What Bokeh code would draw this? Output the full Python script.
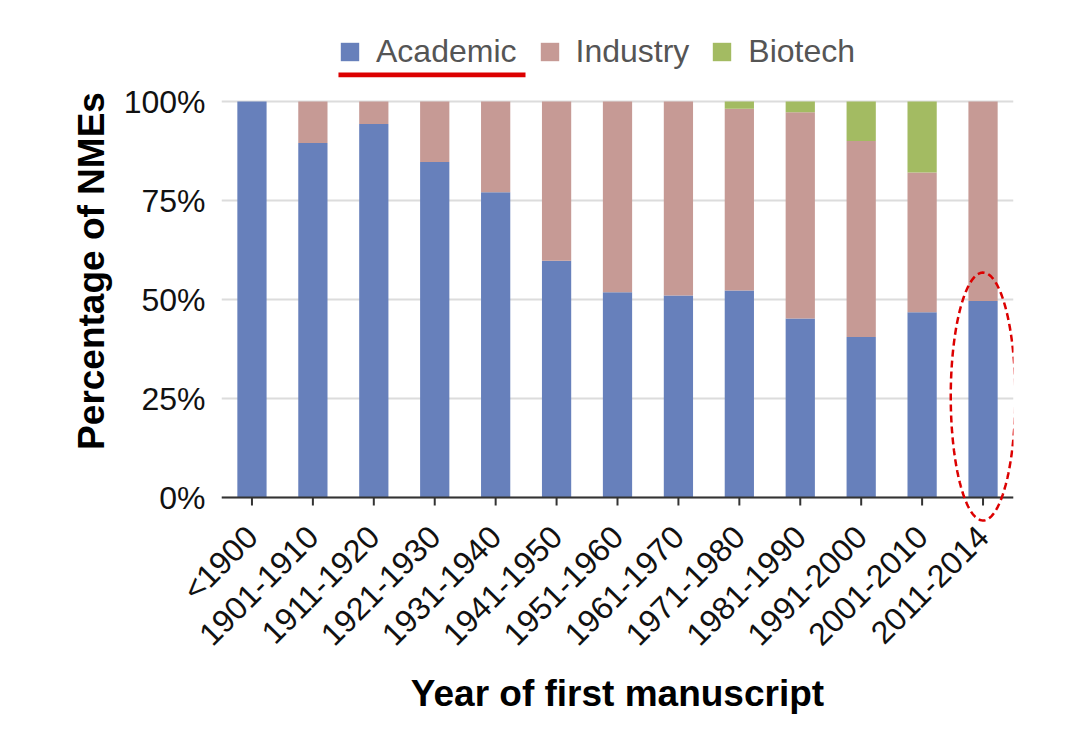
import numpy as np
from bokeh.plotting import figure
from bokeh.models import (ColumnDataSource, FixedTicker, NumeralTickFormatter, Legend, LegendItem,
                          BoxAnnotation, PolyAnnotation, Range1d, Span)
from bokeh.embed import file_html
from bokeh.resources import INLINE

categories = ["<1900", "1901-1910", "1911-1920", "1921-1930", "1931-1940", "1941-1950",
              "1951-1960", "1961-1970", "1971-1980", "1981-1990", "1991-2000", "2001-2010",
              "2011-2014"]
academic = [100, 89.5, 94.3, 84.7, 77.1, 59.8, 51.8, 51.0, 52.3, 45.2, 40.5, 46.8, 49.6]
industry = [0, 10.5, 5.7, 15.3, 22.9, 40.2, 48.2, 49.0, 45.9, 52.1, 49.5, 35.3, 50.4]
biotech = [0, 0, 0, 0, 0, 0, 0, 0, 1.8, 2.7, 10.0, 17.9, 0]
series = ["Academic", "Industry", "Biotech"]
colors = ["#6780bb", "#c69a95", "#a3bb62"]
y_ticks = [0, 0.25, 0.5, 0.75, 1.0]

source = ColumnDataSource(dict(
    cat=categories,
    Academic=[v / 100 for v in academic],
    Industry=[v / 100 for v in industry],
    Biotech=[v / 100 for v in biotech],
))

FONT = "Liberation Sans"
PX = 1 / 396  # one pixel in y data units (396 px per 100 %)

# frame: page y 18..523
p = figure(x_range=categories, y_range=Range1d(-26 * PX, 479 * PX), width=1069, height=744,
           output_backend="svg", toolbar_location=None,
           min_border_left=221, min_border_right=56, min_border_top=18, min_border_bottom=221)
p.outline_line_color = None
p.background_fill_color = "white"
p.border_fill_color = "white"

renderers = p.vbar_stack(series, x="cat", width=0.48, color=colors, source=source, line_color=None)

# baseline and ticks at 0 %
p.add_layout(Span(location=0, dimension="width", line_color="#333333", line_width=2))
p.segment(x0="cat", y0=0, x1="cat", y1=-8 * PX, source=source, line_color="#333333", line_width=2)

# y axis
p.yaxis.ticker = FixedTicker(ticks=y_ticks)
p.yaxis.formatter = NumeralTickFormatter(format="0%")
p.yaxis.axis_line_color = None
p.yaxis.major_tick_line_color = None
p.yaxis.major_tick_out = 0
p.yaxis.major_tick_in = 0
p.yaxis.minor_tick_line_color = None
p.yaxis.major_label_text_font = FONT
p.yaxis.major_label_text_font_size = "32px"
p.yaxis.major_label_text_color = "#111111"
p.yaxis.major_label_standoff = 16
p.yaxis.axis_label = "Percentage of NMEs"
p.yaxis.axis_label_text_font = FONT
p.yaxis.axis_label_text_font_style = "bold"
p.yaxis.axis_label_text_font_size = "37px"
p.yaxis.axis_label_text_color = "#000000"
p.yaxis.axis_label_standoff = 9

# x axis (labels only; line and ticks drawn at 0 % above)
p.xaxis.axis_line_color = None
p.xaxis.major_tick_line_color = None
p.xaxis.major_tick_out = 0
p.xaxis.major_tick_in = 0
p.xaxis.major_label_orientation = np.pi / 4
p.xaxis.major_label_text_font = FONT
p.xaxis.major_label_text_font_size = "32px"
p.xaxis.major_label_text_color = "#111111"
p.xaxis.major_label_standoff = 8
p.xaxis.axis_label = "Year of first manuscript"
p.xaxis.axis_label_text_font = FONT
p.xaxis.axis_label_text_font_style = "bold"
p.xaxis.axis_label_text_font_size = "37px"
p.xaxis.axis_label_text_color = "#000000"
p.xaxis.axis_label_standoff = 5

p.xgrid.grid_line_color = None
p.ygrid.grid_line_color = "#dcdcdc"
p.ygrid.grid_line_width = 2

legend = Legend(items=[LegendItem(label=s, renderers=[r]) for s, r in zip(series, renderers)],
                orientation="horizontal", location=(117, 453),
                label_text_font=FONT, label_text_font_size="32px", label_text_color="#555555",
                glyph_width=23, glyph_height=23, label_standoff=15, spacing=21,
                padding=0, margin=0, border_line_color=None, background_fill_alpha=0)
p.add_layout(legend, "center")

# red annotations
p.add_layout(BoxAnnotation(left=1.92, right=4.99, bottom=1.061, top=1.073,
                           fill_color="#dc0000", fill_alpha=1, line_color=None, line_alpha=0))
t = np.linspace(0, 2 * np.pi, 160)
p.add_layout(PolyAnnotation(xs=list(12.5 + 0.53 * np.cos(t)), ys=list(0.255 + 0.313 * np.sin(t)),
                            fill_alpha=0, line_color="#dc0000", line_alpha=1, line_width=2.5,
                            line_dash="7 4"))

open("out.html", "w").write(file_html(p, INLINE))
